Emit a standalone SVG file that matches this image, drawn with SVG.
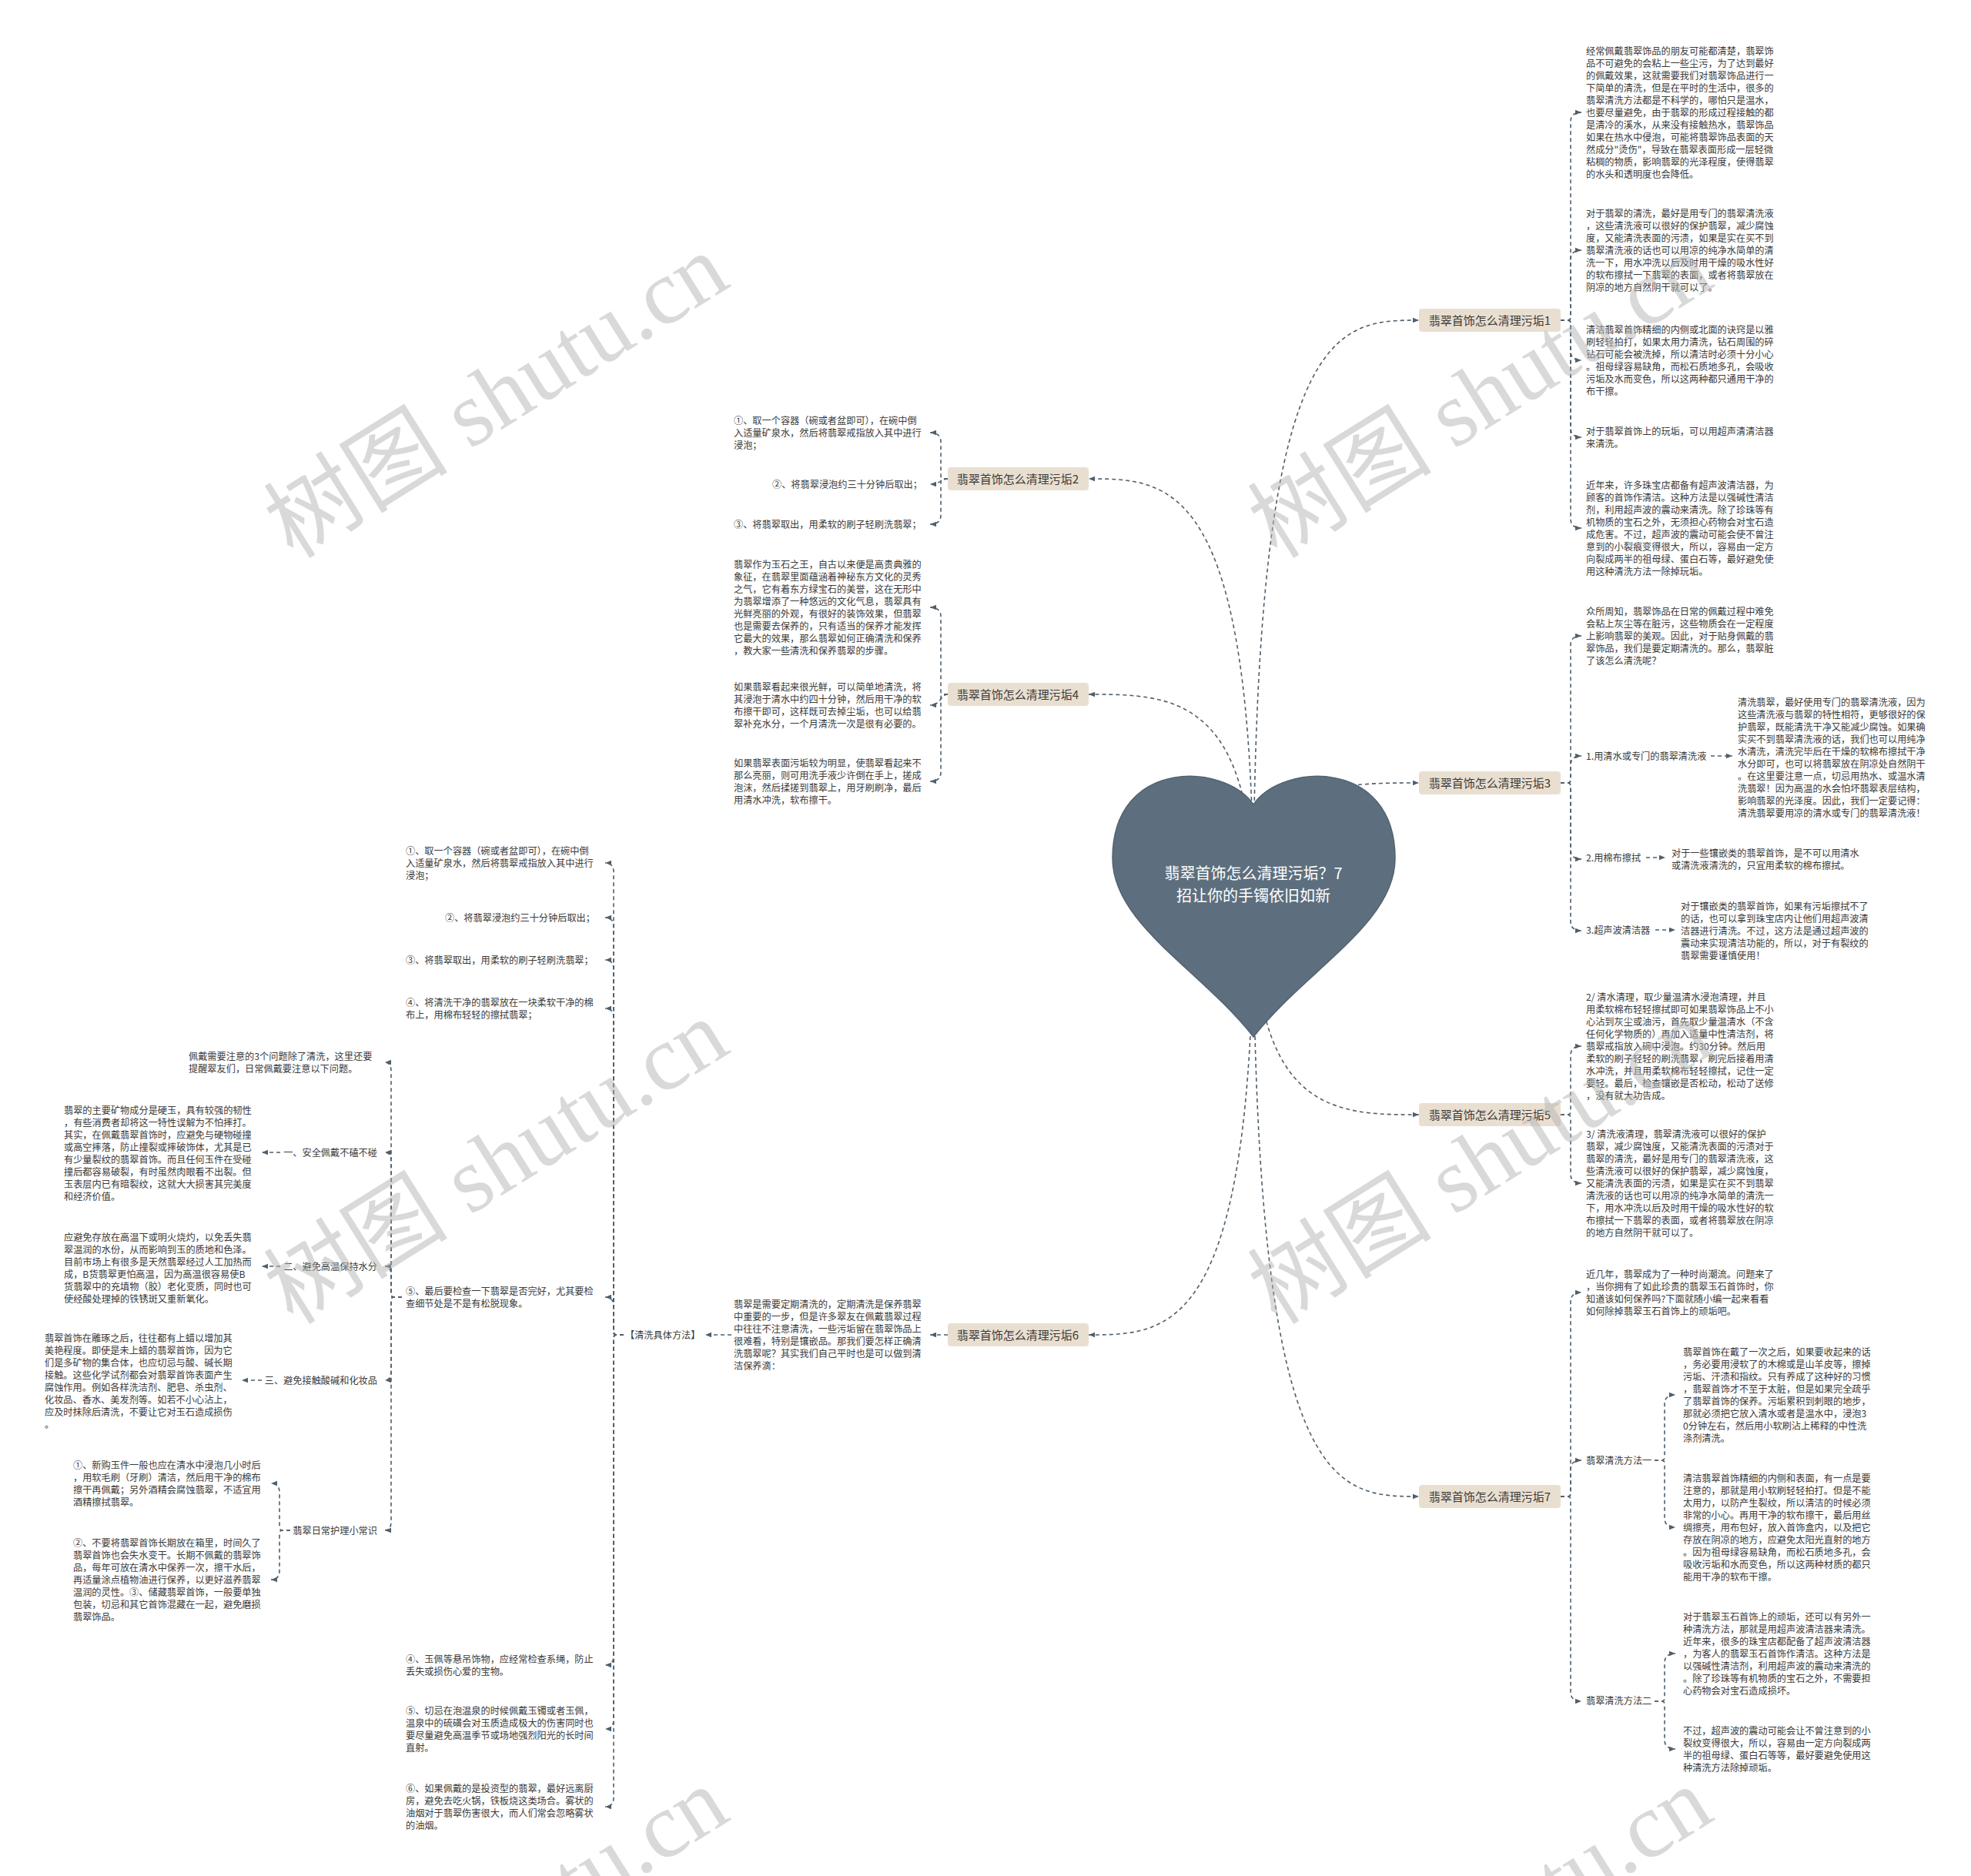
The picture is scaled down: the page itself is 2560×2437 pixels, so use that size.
<svg xmlns="http://www.w3.org/2000/svg" width="2560" height="2437" viewBox="0 0 2560 2437">
<defs>
<style>
.t{font-family:"Noto Sans CJK SC","Noto Sans",sans-serif;font-size:12.2px;fill:#3a3a3a}
.lb{font-family:"Noto Sans CJK SC","Noto Sans",sans-serif;font-size:15px;fill:#3a3a3a;text-anchor:middle}
.box{fill:#e9dfd0}
.c{fill:none;stroke:#4f5f6b;stroke-width:1.6;stroke-dasharray:5 4;marker-end:url(#a)}
.wm{font-family:"Liberation Serif","Noto Sans CJK SC",serif;font-size:120px;fill:#b4b4b4;fill-opacity:0.5;text-anchor:middle}
</style>
<marker id="a" viewBox="0 0 10 10" refX="10" refY="5" markerWidth="8" markerHeight="8" markerUnits="userSpaceOnUse" orient="auto"><path d="M0,1 L10,5 L0,9 z" fill="#4f5f6b"/></marker>
</defs>
<rect width="2560" height="2437" fill="#ffffff"/>

<g id="connectors">
<path class="c" d="M1628 1175 C1628 416 1736 416 1843 416"/>
<path class="c" d="M1628 1175 C1628 622 1520 622 1414 622"/>
<path class="c" d="M1628 1175 C1628 1017 1736 1017 1843 1017"/>
<path class="c" d="M1628 1175 C1628 902 1520 902 1414 902"/>
<path class="c" d="M1628 1175 C1628 1448 1736 1448 1843 1448"/>
<path class="c" d="M1628 1175 C1628 1734 1520 1734 1414 1734"/>
<path class="c" d="M1628 1175 C1628 1944 1736 1944 1843 1944"/>

<path class="c" d="M2027 416 H2036 Q2040 416 2040 412 V158 Q2040 146 2054 146"/>
<path class="c" d="M2027 416 H2036 Q2040 416 2040 412 V337 Q2040 325 2054 325"/>
<path class="c" d="M2027 416 H2036 Q2040 416 2040 420 V456 Q2040 468 2054 468"/>
<path class="c" d="M2027 416 H2036 Q2040 416 2040 420 V556 Q2040 568 2054 568"/>
<path class="c" d="M2027 416 H2036 Q2040 416 2040 420 V674 Q2040 686 2054 686"/>

<path class="c" d="M2027 1017 H2036 Q2040 1017 2040 1013 V838 Q2040 826 2054 826"/>
<path class="c" d="M2027 1017 H2036 Q2040 1017 2040 1013 V994 Q2040 982 2054 982"/>
<path class="c" d="M2027 1017 H2036 Q2040 1017 2040 1021 V1104 Q2040 1116 2054 1116"/>
<path class="c" d="M2027 1017 H2036 Q2040 1017 2040 1021 V1197 Q2040 1209 2054 1209"/>
<path class="c" d="M2222 982 H2250"/>
<path class="c" d="M2138 1114 H2163"/>
<path class="c" d="M2150 1208 H2176"/>

<path class="c" d="M2027 1448 H2036 Q2040 1448 2040 1444 V1371 Q2040 1359 2054 1359"/>
<path class="c" d="M2027 1448 H2036 Q2040 1448 2040 1452 V1525 Q2040 1537 2054 1537"/>

<path class="c" d="M2027 1944 H2036 Q2040 1944 2040 1940 V1691 Q2040 1679 2054 1679"/>
<path class="c" d="M2027 1944 H2036 Q2040 1944 2040 1940 V1909 Q2040 1897 2054 1897"/>
<path class="c" d="M2027 1944 H2036 Q2040 1944 2040 1948 V2198 Q2040 2210 2054 2210"/>
<path class="c" d="M2149 1897 H2158 Q2162 1897 2162 1893 V1824 Q2162 1812 2176 1812"/>
<path class="c" d="M2149 1897 H2158 Q2162 1897 2162 1901 V1972 Q2162 1984 2176 1984"/>
<path class="c" d="M2149 2210 H2158 Q2162 2210 2162 2206 V2160 Q2162 2148 2176 2148"/>
<path class="c" d="M2149 2210 H2158 Q2162 2210 2162 2214 V2260 Q2162 2272 2176 2272"/>

<path class="c" d="M1231 622 H1226 Q1222 622 1222 618 V574 Q1222 562 1208 562"/>
<path class="c" d="M1231 622 C1222 622 1222 629 1208 629"/>
<path class="c" d="M1231 622 H1226 Q1222 622 1222 626 V669 Q1222 681 1208 681"/>
<path class="c" d="M1231 902 H1226 Q1222 902 1222 898 V801 Q1222 789 1208 789"/>
<path class="c" d="M1231 902 C1222 902 1222 916 1208 916"/>
<path class="c" d="M1231 902 H1226 Q1222 902 1222 906 V1003 Q1222 1015 1208 1015"/>

<path class="c" d="M1231 1734 H1208"/>
<path class="c" d="M950 1734 H916"/>

<path class="c" d="M810 1734 H801 Q797 1734 797 1730 V1133 Q797 1121 786 1121"/>
<path class="c" d="M810 1734 H801 Q797 1734 797 1730 V1204 Q797 1192 786 1192"/>
<path class="c" d="M810 1734 H801 Q797 1734 797 1730 V1259 Q797 1247 786 1247"/>
<path class="c" d="M810 1734 H801 Q797 1734 797 1730 V1322 Q797 1310 786 1310"/>
<path class="c" d="M810 1734 H801 Q797 1734 797 1730 V1697 Q797 1685 786 1685"/>
<path class="c" d="M810 1734 H801 Q797 1734 797 1738 V2151 Q797 2163 786 2163"/>
<path class="c" d="M810 1734 H801 Q797 1734 797 1738 V2234 Q797 2246 786 2246"/>
<path class="c" d="M810 1734 H801 Q797 1734 797 1738 V2335 Q797 2347 786 2347"/>

<path class="c" d="M522 1685 H512 Q508 1685 508 1681 V1392 Q508 1380 500 1380"/>
<path class="c" d="M522 1685 H512 Q508 1685 508 1681 V1509 Q508 1497 500 1497"/>
<path class="c" d="M522 1685 H512 Q508 1685 508 1681 V1657 Q508 1645 500 1645"/>
<path class="c" d="M522 1685 H512 Q508 1685 508 1689 V1781 Q508 1793 500 1793"/>
<path class="c" d="M522 1685 H512 Q508 1685 508 1689 V1976 Q508 1988 500 1988"/>
<path class="c" d="M364 1497 H340"/>
<path class="c" d="M364 1645 H340"/>
<path class="c" d="M340 1793 H314"/>
<path class="c" d="M377 1988 H367 Q363 1988 363 1984 V1939 Q363 1927 352 1927"/>
<path class="c" d="M377 1988 H367 Q363 1988 363 1992 V2040 Q363 2052 352 2052"/>
</g>

<g id="root">
<path d="M1628 1045 C1590 990 1445 985 1445 1115 C1445 1200 1560 1260 1628 1347 C1696 1260 1812 1200 1812 1115 C1812 985 1666 990 1628 1045 Z" fill="#5d6f7e" stroke="#52636f" stroke-width="1.5"/>
<text x="1628" y="1142" font-family="Noto Sans CJK SC, sans-serif" font-size="20" fill="#ffffff" text-anchor="middle">翡翠首饰怎么清理污垢？7</text>
<text x="1628" y="1171" font-family="Noto Sans CJK SC, sans-serif" font-size="20" fill="#ffffff" text-anchor="middle">招让你的手镯依旧如新</text>
</g>

<g id="b1"><rect class="box" x="1843" y="401" width="184" height="30" rx="4"/><text class="lb" x="1935" y="421.5">翡翠首饰怎么清理污垢1</text></g>
<g id="b3"><rect class="box" x="1843" y="1002" width="184" height="30" rx="4"/><text class="lb" x="1935" y="1022.5">翡翠首饰怎么清理污垢3</text></g>
<g id="b5"><rect class="box" x="1843" y="1433" width="184" height="30" rx="4"/><text class="lb" x="1935" y="1453.5">翡翠首饰怎么清理污垢5</text></g>
<g id="b7"><rect class="box" x="1843" y="1929" width="184" height="30" rx="4"/><text class="lb" x="1935" y="1949.5">翡翠首饰怎么清理污垢7</text></g>
<g id="b2"><rect class="box" x="1231" y="607" width="183" height="30" rx="4"/><text class="lb" x="1322" y="627.5">翡翠首饰怎么清理污垢2</text></g>
<g id="b4"><rect class="box" x="1231" y="887" width="183" height="30" rx="4"/><text class="lb" x="1322" y="907.5">翡翠首饰怎么清理污垢4</text></g>
<g id="b6"><rect class="box" x="1231" y="1719" width="183" height="30" rx="4"/><text class="lb" x="1322" y="1739.5">翡翠首饰怎么清理污垢6</text></g>

<g id="b1-1"><text class="t" x="2060" y="70.5"><tspan x="2060">经常佩戴翡翠饰品的朋友可能都清楚，翡翠饰</tspan><tspan x="2060" dy="16">品不可避免的会粘上一些尘污，为了达到最好</tspan><tspan x="2060" dy="16">的佩戴效果，这就需要我们对翡翠饰品进行一</tspan><tspan x="2060" dy="16">下简单的清洗，但是在平时的生活中，很多的</tspan><tspan x="2060" dy="16">翡翠清洗方法都是不科学的，哪怕只是温水，</tspan><tspan x="2060" dy="16">也要尽量避免，由于翡翠的形成过程接触的都</tspan><tspan x="2060" dy="16">是清冷的溪水，从来没有接触热水，翡翠饰品</tspan><tspan x="2060" dy="16">如果在热水中侵泡，可能将翡翠饰品表面的天</tspan><tspan x="2060" dy="16">然成分"烫伤"，导致在翡翠表面形成一层轻微</tspan><tspan x="2060" dy="16">粘稠的物质，影响翡翠的光泽程度，使得翡翠</tspan><tspan x="2060" dy="16">的水头和透明度也会降低。</tspan></text></g>
<g id="b1-2"><text class="t" x="2060" y="281.5"><tspan x="2060">对于翡翠的清洗，最好是用专门的翡翠清洗液</tspan><tspan x="2060" dy="16">，这些清洗液可以很好的保护翡翠，减少腐蚀</tspan><tspan x="2060" dy="16">度，又能清洗表面的污渍，如果是实在买不到</tspan><tspan x="2060" dy="16">翡翠清洗液的话也可以用凉的纯净水简单的清</tspan><tspan x="2060" dy="16">洗一下，用水冲洗以后及时用干燥的吸水性好</tspan><tspan x="2060" dy="16">的软布擦拭一下翡翠的表面，或者将翡翠放在</tspan><tspan x="2060" dy="16">阴凉的地方自然阴干就可以了。</tspan></text></g>
<g id="b1-3"><text class="t" x="2060" y="432.5"><tspan x="2060">清洁翡翠首饰精细的内侧或北面的诀窍是以雅</tspan><tspan x="2060" dy="16">刷轻轻拍打，如果太用力清洗，钻石周围的碎</tspan><tspan x="2060" dy="16">钻石可能会被洗掉，所以清洁时必须十分小心</tspan><tspan x="2060" dy="16">。祖母绿容易缺角，而松石质地多孔，会吸收</tspan><tspan x="2060" dy="16">污垢及水而变色，所以这两种都只通用干净的</tspan><tspan x="2060" dy="16">布干擦。</tspan></text></g>
<g id="b1-4"><text class="t" x="2060" y="564.5"><tspan x="2060">对于翡翠首饰上的玩垢，可以用超声清清洁器</tspan><tspan x="2060" dy="16">来清洗。</tspan></text></g>
<g id="b1-5"><text class="t" x="2060" y="634.5"><tspan x="2060">近年来，许多珠宝店都备有超声波清洁器，为</tspan><tspan x="2060" dy="16">顾客的首饰作清洁。这种方法是以强碱性清洁</tspan><tspan x="2060" dy="16">剂，利用超声波的震动来清洗。除了珍珠等有</tspan><tspan x="2060" dy="16">机物质的宝石之外，无须担心药物会对宝石造</tspan><tspan x="2060" dy="16">成危害。不过，超声波的震动可能会使不曾注</tspan><tspan x="2060" dy="16">意到的小裂痕变得很大，所以，容易由一定方</tspan><tspan x="2060" dy="16">向裂成两半的祖母绿、蛋白石等，最好避免使</tspan><tspan x="2060" dy="16">用这种清洗方法一除掉玩垢。</tspan></text></g>

<g id="b3-1"><text class="t" x="2060" y="798.5"><tspan x="2060">众所周知，翡翠饰品在日常的佩戴过程中难免</tspan><tspan x="2060" dy="16">会粘上灰尘等在脏污，这些物质会在一定程度</tspan><tspan x="2060" dy="16">上影响翡翠的美观。因此，对于贴身佩戴的翡</tspan><tspan x="2060" dy="16">翠饰品，我们是要定期清洗的。那么，翡翠脏</tspan><tspan x="2060" dy="16">了该怎么清洗呢？</tspan></text></g>
<g id="b3-2"><text class="t" x="2060" y="986.5">1.用清水或专门的翡翠清洗液</text></g>
<g id="b3-2a"><text class="t" x="2257" y="916.5"><tspan x="2257">清洗翡翠，最好使用专门的翡翠清洗液，因为</tspan><tspan x="2257" dy="16">这些清洗液与翡翠的特性相符，更够很好的保</tspan><tspan x="2257" dy="16">护翡翠，既能清洗干净又能减少腐蚀。如果确</tspan><tspan x="2257" dy="16">实买不到翡翠清洗液的话，我们也可以用纯净</tspan><tspan x="2257" dy="16">水清洗，清洗完毕后在干燥的软棉布擦拭干净</tspan><tspan x="2257" dy="16">水分即可，也可以将翡翠放在阴凉处自然阴干</tspan><tspan x="2257" dy="16">。在这里要注意一点，切忌用热水、或温水清</tspan><tspan x="2257" dy="16">洗翡翠！因为高温的水会怕坏翡翠表层结构，</tspan><tspan x="2257" dy="16">影响翡翠的光泽度。因此，我们一定要记得：</tspan><tspan x="2257" dy="16">清洗翡翠要用凉的清水或专门的翡翠清洗液！</tspan></text></g>
<g id="b3-3"><text class="t" x="2060" y="1118.5">2.用棉布擦拭</text></g>
<g id="b3-3a"><text class="t" x="2171" y="1112.5"><tspan x="2171">对于一些镶嵌类的翡翠首饰，是不可以用清水</tspan><tspan x="2171" dy="16">或清洗液清洗的，只宜用柔软的棉布擦拭。</tspan></text></g>
<g id="b3-4"><text class="t" x="2060" y="1213">3.超声波清洁器</text></g>
<g id="b3-4a"><text class="t" x="2183" y="1181.5"><tspan x="2183">对于镶嵌类的翡翠首饰，如果有污垢擦拭不了</tspan><tspan x="2183" dy="16">的话，也可以拿到珠宝店内让他们用超声波清</tspan><tspan x="2183" dy="16">洁器进行清洗。不过，这方法是通过超声波的</tspan><tspan x="2183" dy="16">震动来实现清洁功能的，所以，对于有裂纹的</tspan><tspan x="2183" dy="16">翡翠需要谨慎使用！</tspan></text></g>

<g id="b5-1"><text class="t" x="2060" y="1299.5"><tspan x="2060">2/ 清水清理，取少量温清水浸泡清理，并且</tspan><tspan x="2060" dy="16">用柔软棉布轻轻擦拭即可如果翡翠饰品上不小</tspan><tspan x="2060" dy="16">心沾到灰尘或油污，首先取少量温清水（不含</tspan><tspan x="2060" dy="16">任何化学物质的）再加入适量中性清洁剂，将</tspan><tspan x="2060" dy="16">翡翠戒指放入碗中浸泡。约30分钟。然后用</tspan><tspan x="2060" dy="16">柔软的刷子轻轻的刷洗翡翠，刷完后接着用清</tspan><tspan x="2060" dy="16">水冲洗，并且用柔软棉布轻轻擦拭，记住一定</tspan><tspan x="2060" dy="16">要轻。最后，检查镶嵌是否松动，松动了送修</tspan><tspan x="2060" dy="16">，没有就大功告成。</tspan></text></g>
<g id="b5-2"><text class="t" x="2060" y="1477.5"><tspan x="2060">3/ 清洗液清理，翡翠清洗液可以很好的保护</tspan><tspan x="2060" dy="16">翡翠，减少腐蚀度，又能清洗表面的污渍对于</tspan><tspan x="2060" dy="16">翡翠的清洗，最好是用专门的翡翠清洗液，这</tspan><tspan x="2060" dy="16">些清洗液可以很好的保护翡翠，减少腐蚀度，</tspan><tspan x="2060" dy="16">又能清洗表面的污渍，如果是实在买不到翡翠</tspan><tspan x="2060" dy="16">清洗液的话也可以用凉的纯净水简单的清洗一</tspan><tspan x="2060" dy="16">下，用水冲洗以后及时用干燥的吸水性好的软</tspan><tspan x="2060" dy="16">布擦拭一下翡翠的表面，或者将翡翠放在阴凉</tspan><tspan x="2060" dy="16">的地方自然阴干就可以了。</tspan></text></g>

<g id="b7-1"><text class="t" x="2060" y="1659.5"><tspan x="2060">近几年，翡翠成为了一种时尚潮流。问题来了</tspan><tspan x="2060" dy="16">，当你拥有了如此珍贵的翡翠玉石首饰时，你</tspan><tspan x="2060" dy="16">知道该如何保养吗?下面就随小编一起来看看</tspan><tspan x="2060" dy="16">如何除掉翡翠玉石首饰上的顽垢吧。</tspan></text></g>
<g id="b7-2"><text class="t" x="2060" y="1901.5">翡翠清洗方法一</text></g>
<g id="b7-2a"><text class="t" x="2186" y="1760.5"><tspan x="2186">翡翠首饰在戴了一次之后，如果要收起来的话</tspan><tspan x="2186" dy="16">，务必要用浸软了的木棉或是山羊皮等，擦掉</tspan><tspan x="2186" dy="16">污垢、汗渍和指纹。只有养成了这种好的习惯</tspan><tspan x="2186" dy="16">，翡翠首饰才不至于太脏，但是如果完全疏乎</tspan><tspan x="2186" dy="16">了翡翠首饰的保养。污垢累积到刺眼的地步，</tspan><tspan x="2186" dy="16">那就必须把它放入清水或者是温水中，浸泡3</tspan><tspan x="2186" dy="16">0分钟左右，然后用小软刷沾上稀释的中性洗</tspan><tspan x="2186" dy="16">涤剂清洗。</tspan></text></g>
<g id="b7-2b"><text class="t" x="2186" y="1924.5"><tspan x="2186">清洁翡翠首饰精细的内侧和表面，有一点是要</tspan><tspan x="2186" dy="16">注意的，那就是用小软刷轻轻拍打。但是不能</tspan><tspan x="2186" dy="16">太用力，以防产生裂纹，所以清洁的时候必须</tspan><tspan x="2186" dy="16">非常的小心。再用干净的软布擦干，最后用丝</tspan><tspan x="2186" dy="16">绸擦亮，用布包好，放入首饰盒内，以及把它</tspan><tspan x="2186" dy="16">存放在阴凉的地方，应避免太阳光直射的地方</tspan><tspan x="2186" dy="16">。因为祖母绿容易缺角，而松石质地多孔，会</tspan><tspan x="2186" dy="16">吸收污垢和水而变色，所以这两种材质的都只</tspan><tspan x="2186" dy="16">能用干净的软布干擦。</tspan></text></g>
<g id="b7-3"><text class="t" x="2060" y="2214">翡翠清洗方法二</text></g>
<g id="b7-3a"><text class="t" x="2186" y="2104.5"><tspan x="2186">对于翡翠玉石首饰上的顽垢，还可以有另外一</tspan><tspan x="2186" dy="16">种清洗方法，那就是用超声波清洁器来清洗。</tspan><tspan x="2186" dy="16">近年来，很多的珠宝店都配备了超声波清洁器</tspan><tspan x="2186" dy="16">，为客人的翡翠玉石首饰作清洁。这种方法是</tspan><tspan x="2186" dy="16">以强碱性清洁剂，利用超声波的震动来清洗的</tspan><tspan x="2186" dy="16">。除了珍珠等有机物质的宝石之外，不需要担</tspan><tspan x="2186" dy="16">心药物会对宝石造成损坏。</tspan></text></g>
<g id="b7-3b"><text class="t" x="2186" y="2252.5"><tspan x="2186">不过，超声波的震动可能会让不曾注意到的小</tspan><tspan x="2186" dy="16">裂纹变得很大，所以，容易由一定方向裂成两</tspan><tspan x="2186" dy="16">半的祖母绿、蛋白石等等，最好要避免使用这</tspan><tspan x="2186" dy="16">种清洗方法除掉顽垢。</tspan></text></g>

<g id="b2-1"><text class="t" x="953" y="550.5"><tspan x="953">①、取一个容器（碗或者盆即可），在碗中倒</tspan><tspan x="953" dy="16">入适量矿泉水，然后将翡翠戒指放入其中进行</tspan><tspan x="953" dy="16">浸泡；</tspan></text></g>
<g id="b2-2"><text class="t" x="1003" y="633.5">②、将翡翠浸泡约三十分钟后取出；</text></g>
<g id="b2-3"><text class="t" x="953" y="685.5">③、将翡翠取出，用柔软的刷子轻刷洗翡翠；</text></g>

<g id="b4-1"><text class="t" x="953" y="737.5"><tspan x="953">翡翠作为玉石之王，自古以来便是高贵典雅的</tspan><tspan x="953" dy="16">象征，在翡翠里面蕴涵着神秘东方文化的灵秀</tspan><tspan x="953" dy="16">之气，它有着东方绿宝石的美誉，这在无形中</tspan><tspan x="953" dy="16">为翡翠增添了一种悠远的文化气息，翡翠具有</tspan><tspan x="953" dy="16">光鲜亮丽的外观，有很好的装饰效果，但翡翠</tspan><tspan x="953" dy="16">也是需要去保养的，只有适当的保养才能发挥</tspan><tspan x="953" dy="16">它最大的效果，那么翡翠如何正确清洗和保养</tspan><tspan x="953" dy="16">，教大家一些清洗和保养翡翠的步骤。</tspan></text></g>
<g id="b4-2"><text class="t" x="953" y="896.5"><tspan x="953">如果翡翠看起来很光鲜，可以简单地清洗，将</tspan><tspan x="953" dy="16">其浸泡于清水中约四十分钟，然后用干净的软</tspan><tspan x="953" dy="16">布擦干即可，这样既可去掉尘垢，也可以给翡</tspan><tspan x="953" dy="16">翠补充水分，一个月清洗一次是很有必要的。</tspan></text></g>
<g id="b4-3"><text class="t" x="953" y="995.5"><tspan x="953">如果翡翠表面污垢较为明显，使翡翠看起来不</tspan><tspan x="953" dy="16">那么亮丽，则可用洗手液少许倒在手上，搓成</tspan><tspan x="953" dy="16">泡沫，然后揉搓到翡翠上，用牙刷刷净，最后</tspan><tspan x="953" dy="16">用清水冲洗，软布擦干。</tspan></text></g>

<g id="b6-1"><text class="t" x="953" y="1698.5"><tspan x="953">翡翠是需要定期清洗的，定期清洗是保养翡翠</tspan><tspan x="953" dy="16">中重要的一步，但是许多翠友在佩戴翡翠过程</tspan><tspan x="953" dy="16">中往往不注意清洗，一些污垢留在翡翠饰品上</tspan><tspan x="953" dy="16">很难看，特别是镶嵌品。那我们要怎样正确清</tspan><tspan x="953" dy="16">洗翡翠呢？其实我们自己平时也是可以做到清</tspan><tspan x="953" dy="16">洁保养滴：</tspan></text></g>
<g id="m"><text class="t" x="812" y="1738.5">【清洗具体方法】</text></g>

<g id="m1"><text class="t" x="527" y="1109.5"><tspan x="527">①、取一个容器（碗或者盆即可），在碗中倒</tspan><tspan x="527" dy="16">入适量矿泉水，然后将翡翠戒指放入其中进行</tspan><tspan x="527" dy="16">浸泡；</tspan></text></g>
<g id="m2"><text class="t" x="578" y="1196.5">②、将翡翠浸泡约三十分钟后取出；</text></g>
<g id="m3"><text class="t" x="527" y="1251.5">③、将翡翠取出，用柔软的刷子轻刷洗翡翠；</text></g>
<g id="m4"><text class="t" x="527" y="1306.5"><tspan x="527">④、将清洗干净的翡翠放在一块柔软干净的棉</tspan><tspan x="527" dy="16">布上，用棉布轻轻的擦拭翡翠；</tspan></text></g>
<g id="m5"><text class="t" x="527" y="1681.5"><tspan x="527">⑤、最后要检查一下翡翠是否完好，尤其要检</tspan><tspan x="527" dy="16">查细节处是不是有松脱现象。</tspan></text></g>
<g id="m6"><text class="t" x="527" y="2159.5"><tspan x="527">④、玉佩等悬吊饰物，应经常检查系绳，防止</tspan><tspan x="527" dy="16">丢失或损伤心爱的宝物。</tspan></text></g>
<g id="m7"><text class="t" x="527" y="2226.5"><tspan x="527">⑤、切忌在泡温泉的时候佩戴玉镯或者玉佩，</tspan><tspan x="527" dy="16">温泉中的硫磺会对玉质造成极大的伤害同时也</tspan><tspan x="527" dy="16">要尽量避免高温季节或场地强烈阳光的长时间</tspan><tspan x="527" dy="16">直射。</tspan></text></g>
<g id="m8"><text class="t" x="527" y="2327.5"><tspan x="527">⑥、如果佩戴的是投资型的翡翠，最好远离厨</tspan><tspan x="527" dy="16">房，避免去吃火锅，铁板烧这类场合。雾状的</tspan><tspan x="527" dy="16">油烟对于翡翠伤害很大，而人们常会忽略雾状</tspan><tspan x="527" dy="16">的油烟。</tspan></text></g>

<g id="p0"><text class="t" x="245" y="1376.5"><tspan x="245">佩戴需要注意的3个问题除了清洗，这里还要</tspan><tspan x="245" dy="16">提醒翠友们，日常佩戴要注意以下问题。</tspan></text></g>
<g id="p1"><text class="t" x="490" y="1501.5" text-anchor="end">一、安全佩戴不磕不碰</text></g>
<g id="p1a"><text class="t" x="83" y="1446.5"><tspan x="83">翡翠的主要矿物成分是硬玉，具有较强的韧性</tspan><tspan x="83" dy="16">，有些消费者却将这一特性误解为不怕摔打。</tspan><tspan x="83" dy="16">其实，在佩戴翡翠首饰时，应避免与硬物碰撞</tspan><tspan x="83" dy="16">或高空摔落，防止撞裂或摔破饰体，尤其是已</tspan><tspan x="83" dy="16">有少量裂纹的翡翠首饰。而且任何玉件在受碰</tspan><tspan x="83" dy="16">撞后都容易破裂，有时虽然肉眼看不出裂。但</tspan><tspan x="83" dy="16">玉表层内已有暗裂纹，这就大大损害其完美度</tspan><tspan x="83" dy="16">和经济价值。</tspan></text></g>
<g id="p2"><text class="t" x="490" y="1649.5" text-anchor="end">二、避免高温保持水分</text></g>
<g id="p2a"><text class="t" x="83" y="1611.5"><tspan x="83">应避免存放在高温下或明火烧灼，以免丢失翡</tspan><tspan x="83" dy="16">翠温润的水份，从而影响到玉的质地和色泽。</tspan><tspan x="83" dy="16">目前市场上有很多是天然翡翠经过人工加热而</tspan><tspan x="83" dy="16">成，B货翡翠更怕高温，因为高温很容易使B</tspan><tspan x="83" dy="16">货翡翠中的充填物（胶）老化变质，同时也可</tspan><tspan x="83" dy="16">使经酸处理掉的铁锈斑又重新氧化。</tspan></text></g>
<g id="p3"><text class="t" x="490" y="1797.5" text-anchor="end">三、避免接触酸碱和化妆品</text></g>
<g id="p3a"><text class="t" x="58" y="1742.5"><tspan x="58">翡翠首饰在雕琢之后，往往都有上蜡以增加其</tspan><tspan x="58" dy="16">美艳程度。即使是未上蜡的翡翠首饰，因为它</tspan><tspan x="58" dy="16">们是多矿物的集合体，也应切忌与酸、碱长期</tspan><tspan x="58" dy="16">接触。这些化学试剂都会对翡翠首饰表面产生</tspan><tspan x="58" dy="16">腐蚀作用。例如各样洗洁剂、肥皂、杀虫剂、</tspan><tspan x="58" dy="16">化妆品、香水、美发剂等。如若不小心沾上，</tspan><tspan x="58" dy="16">应及时抹除后清洗，不要让它对玉石造成损伤</tspan><tspan x="58" dy="16">。</tspan></text></g>
<g id="p4"><text class="t" x="490" y="1992.5" text-anchor="end">翡翠日常护理小常识</text></g>
<g id="p4a"><text class="t" x="95" y="1907.5"><tspan x="95">①、新购玉件一般也应在清水中浸泡几小时后</tspan><tspan x="95" dy="16">，用软毛刷（牙刷）清洁，然后用干净的棉布</tspan><tspan x="95" dy="16">擦干再佩戴；另外酒精会腐蚀翡翠，不适宜用</tspan><tspan x="95" dy="16">酒精擦拭翡翠。</tspan></text></g>
<g id="p4b"><text class="t" x="95" y="2008.5"><tspan x="95">②、不要将翡翠首饰长期放在箱里，时间久了</tspan><tspan x="95" dy="16">翡翠首饰也会失水变干。长期不佩戴的翡翠饰</tspan><tspan x="95" dy="16">品，每年可放在清水中保养一次，擦干水后，</tspan><tspan x="95" dy="16">再适量涂点植物油进行保养，以更好滋养翡翠</tspan><tspan x="95" dy="16">温润的灵性。③、储藏翡翠首饰，一般要单独</tspan><tspan x="95" dy="16">包装，切忌和其它首饰混藏在一起，避免磨损</tspan><tspan x="95" dy="16">翡翠饰品。</tspan></text></g>

<g id="watermarks">
<text class="wm" x="645" y="555" transform="rotate(-32 645 515)">树图 shutu.cn</text>
<text class="wm" x="1923" y="555" transform="rotate(-32 1923 515)">树图 shutu.cn</text>
<text class="wm" x="645" y="1550" transform="rotate(-32 645 1510)">树图 shutu.cn</text>
<text class="wm" x="1923" y="1550" transform="rotate(-32 1923 1510)">树图 shutu.cn</text>
<text class="wm" x="645" y="2547" transform="rotate(-32 645 2507)">树图 shutu.cn</text>
<text class="wm" x="1923" y="2547" transform="rotate(-32 1923 2507)">树图 shutu.cn</text>
</g>
</svg>
